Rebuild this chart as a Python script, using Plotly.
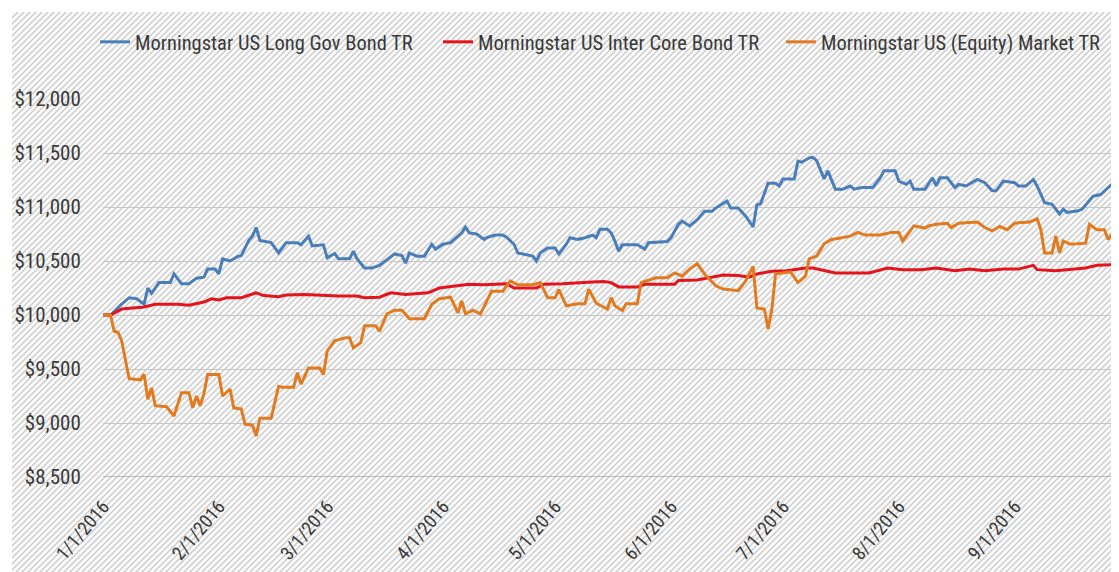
import base64
import plotly.graph_objects as go

# ---------------- data ----------------
long_gov_dates = [
    "2016-01-01", "2016-01-03", "2016-01-06", "2016-01-08", "2016-01-10", "2016-01-12", "2016-01-13",
    "2016-01-14", "2016-01-16", "2016-01-19", "2016-01-20", "2016-01-22", "2016-01-24", "2016-01-26",
    "2016-01-28", "2016-01-29", "2016-01-31", "2016-02-01", "2016-02-02", "2016-02-04", "2016-02-06",
    "2016-02-07", "2016-02-09", "2016-02-10", "2016-02-11", "2016-02-12", "2016-02-15", "2016-02-17",
    "2016-02-19", "2016-02-22", "2016-02-23", "2016-02-24", "2016-02-25", "2016-02-26", "2016-02-29",
    "2016-03-01", "2016-03-03", "2016-03-04", "2016-03-07", "2016-03-08", "2016-03-09", "2016-03-11",
    "2016-03-13", "2016-03-15", "2016-03-17", "2016-03-19", "2016-03-21", "2016-03-22", "2016-03-23",
    "2016-03-25", "2016-03-27", "2016-03-29", "2016-03-30", "2016-04-01", "2016-04-03", "2016-04-06",
    "2016-04-07", "2016-04-08", "2016-04-10", "2016-04-12", "2016-04-13", "2016-04-15", "2016-04-17",
    "2016-04-18", "2016-04-20", "2016-04-21", "2016-04-23", "2016-04-25", "2016-04-26", "2016-04-27",
    "2016-04-29", "2016-05-01", "2016-05-02", "2016-05-04", "2016-05-05", "2016-05-07", "2016-05-09",
    "2016-05-11", "2016-05-12", "2016-05-13", "2016-05-15", "2016-05-16", "2016-05-17", "2016-05-18",
    "2016-05-19", "2016-05-23", "2016-05-25", "2016-05-26", "2016-05-31", "2016-06-01", "2016-06-03",
    "2016-06-04", "2016-06-06", "2016-06-08", "2016-06-10", "2016-06-12", "2016-06-13", "2016-06-16",
    "2016-06-17", "2016-06-19", "2016-06-21", "2016-06-22", "2016-06-23", "2016-06-24", "2016-06-25",
    "2016-06-27", "2016-06-29", "2016-06-30", "2016-07-01", "2016-07-04", "2016-07-05", "2016-07-06",
    "2016-07-08", "2016-07-09", "2016-07-10", "2016-07-12", "2016-07-13", "2016-07-15", "2016-07-17",
    "2016-07-19", "2016-07-20", "2016-07-22", "2016-07-25", "2016-07-27", "2016-07-28", "2016-07-31",
    "2016-08-01", "2016-08-03", "2016-08-04", "2016-08-05", "2016-08-08", "2016-08-09", "2016-08-10",
    "2016-08-11", "2016-08-12", "2016-08-14", "2016-08-16", "2016-08-17", "2016-08-19", "2016-08-22",
    "2016-08-24", "2016-08-26", "2016-08-27", "2016-08-29", "2016-09-01", "2016-09-02", "2016-09-04",
    "2016-09-06", "2016-09-07", "2016-09-09", "2016-09-11", "2016-09-13", "2016-09-14", "2016-09-15",
    "2016-09-18", "2016-09-19", "2016-09-22", "2016-09-24", "2016-09-27", "2016-09-29",
]
long_gov_values = [
    10000, 10000, 10100, 10160, 10150, 10100, 10250,
    10200, 10300, 10300, 10380, 10290, 10290, 10340,
    10350, 10425, 10425, 10380, 10520, 10500, 10540,
    10550, 10690, 10730, 10810, 10690, 10670, 10575,
    10670, 10670, 10650, 10690, 10730, 10640, 10650,
    10530, 10570, 10520, 10520, 10590, 10520, 10435,
    10435, 10460, 10510, 10565, 10550, 10480, 10575,
    10545, 10545, 10655, 10610, 10655, 10670, 10760,
    10815, 10760, 10750, 10700, 10720, 10740, 10740,
    10720, 10655, 10575, 10560, 10545, 10500, 10575,
    10620, 10620, 10565, 10655, 10715, 10700, 10715,
    10740, 10715, 10795, 10795, 10760, 10685, 10590,
    10650, 10650, 10610, 10670, 10680, 10715, 10840,
    10870, 10825, 10880, 10960, 10960, 10990, 11055,
    10990, 10990, 10915, 10870, 10815, 11020, 11030,
    11220, 11220, 11195, 11260, 11260, 11425, 11415,
    11455, 11460, 11430, 11260, 11335, 11165, 11165,
    11195, 11165, 11180, 11180, 11270, 11335, 11335,
    11240, 11210, 11240, 11165, 11165, 11220, 11270,
    11195, 11270, 11270, 11180, 11210, 11195, 11255,
    11225, 11150, 11150, 11240, 11225, 11195, 11195,
    11255, 11195, 11040, 11025, 10935, 10980, 10950,
    10965, 10980, 11100, 11115, 11210, 11225,
]

inter_core_dates = [
    "2016-01-01", "2016-01-03", "2016-01-06", "2016-01-09", "2016-01-12", "2016-01-15", "2016-01-21",
    "2016-01-24", "2016-01-28", "2016-01-30", "2016-02-01", "2016-02-03", "2016-02-07", "2016-02-11",
    "2016-02-13", "2016-02-17", "2016-02-19", "2016-02-24", "2016-02-29", "2016-03-04", "2016-03-09",
    "2016-03-11", "2016-03-15", "2016-03-18", "2016-03-22", "2016-03-28", "2016-03-31", "2016-04-05",
    "2016-04-08", "2016-04-12", "2016-04-18", "2016-04-20", "2016-04-26", "2016-04-28", "2016-05-03",
    "2016-05-11", "2016-05-14", "2016-05-16", "2016-05-18", "2016-05-23", "2016-05-25", "2016-06-02",
    "2016-06-03", "2016-06-08", "2016-06-12", "2016-06-15", "2016-06-19", "2016-06-22", "2016-06-24",
    "2016-06-28", "2016-07-02", "2016-07-07", "2016-07-09", "2016-07-12", "2016-07-15", "2016-07-24",
    "2016-07-29", "2016-08-02", "2016-08-07", "2016-08-11", "2016-08-16", "2016-08-20", "2016-08-24",
    "2016-08-29", "2016-09-02", "2016-09-06", "2016-09-07", "2016-09-12", "2016-09-15", "2016-09-20",
    "2016-09-23", "2016-09-29",
]
inter_core_values = [
    10000, 10000, 10055, 10065, 10075, 10100, 10100,
    10090, 10120, 10150, 10140, 10160, 10160, 10205,
    10180, 10170, 10185, 10190, 10180, 10175, 10175,
    10160, 10165, 10205, 10190, 10205, 10250, 10270,
    10285, 10280, 10290, 10250, 10250, 10285, 10290,
    10305, 10310, 10300, 10260, 10260, 10285, 10285,
    10320, 10325, 10350, 10370, 10365, 10350, 10380,
    10405, 10410, 10435, 10435, 10410, 10390, 10390,
    10435, 10420, 10420, 10435, 10410, 10425, 10410,
    10425, 10425, 10460, 10420, 10410, 10420, 10435,
    10460, 10470,
]

equity_dates = [
    "2016-01-01", "2016-01-03", "2016-01-04", "2016-01-05", "2016-01-06", "2016-01-07", "2016-01-08",
    "2016-01-11", "2016-01-12", "2016-01-13", "2016-01-14", "2016-01-15", "2016-01-18", "2016-01-20",
    "2016-01-22", "2016-01-24", "2016-01-25", "2016-01-26", "2016-01-27", "2016-01-28", "2016-01-29",
    "2016-02-01", "2016-02-02", "2016-02-04", "2016-02-05", "2016-02-07", "2016-02-08", "2016-02-10",
    "2016-02-11", "2016-02-12", "2016-02-15", "2016-02-17", "2016-02-18", "2016-02-21", "2016-02-22",
    "2016-02-23", "2016-02-25", "2016-02-28", "2016-02-29", "2016-03-01", "2016-03-03", "2016-03-06",
    "2016-03-07", "2016-03-08", "2016-03-10", "2016-03-11", "2016-03-14", "2016-03-15", "2016-03-17",
    "2016-03-19", "2016-03-21", "2016-03-23", "2016-03-27", "2016-03-29", "2016-03-31", "2016-04-03",
    "2016-04-05", "2016-04-06", "2016-04-07", "2016-04-09", "2016-04-11", "2016-04-14", "2016-04-17",
    "2016-04-19", "2016-04-21", "2016-04-25", "2016-04-27", "2016-04-29", "2016-05-01", "2016-05-02",
    "2016-05-04", "2016-05-07", "2016-05-09", "2016-05-10", "2016-05-12", "2016-05-13", "2016-05-15",
    "2016-05-16", "2016-05-17", "2016-05-19", "2016-05-20", "2016-05-23", "2016-05-24", "2016-05-28",
    "2016-05-31", "2016-06-02", "2016-06-04", "2016-06-06", "2016-06-08", "2016-06-10", "2016-06-13",
    "2016-06-15", "2016-06-19", "2016-06-21", "2016-06-23", "2016-06-24", "2016-06-26", "2016-06-27",
    "2016-06-28", "2016-06-29", "2016-07-01", "2016-07-03", "2016-07-05", "2016-07-07", "2016-07-08",
    "2016-07-10", "2016-07-12", "2016-07-14", "2016-07-16", "2016-07-19", "2016-07-21", "2016-07-23",
    "2016-07-27", "2016-07-30", "2016-08-01", "2016-08-02", "2016-08-03", "2016-08-05", "2016-08-08",
    "2016-08-09", "2016-08-11", "2016-08-14", "2016-08-15", "2016-08-17", "2016-08-22", "2016-08-24",
    "2016-08-26", "2016-08-28", "2016-08-30", "2016-09-01", "2016-09-05", "2016-09-07", "2016-09-08",
    "2016-09-09", "2016-09-11", "2016-09-12", "2016-09-13", "2016-09-14", "2016-09-16", "2016-09-20",
    "2016-09-21", "2016-09-23", "2016-09-25", "2016-09-26", "2016-09-29",
]
equity_values = [
    10000, 10000, 9850, 9840, 9760, 9575, 9410,
    9400, 9450, 9220, 9325, 9160, 9150, 9065,
    9280, 9280, 9140, 9250, 9160, 9270, 9450,
    9450, 9250, 9315, 9140, 9130, 8990, 8980,
    8880, 9045, 9045, 9340, 9330, 9330, 9465,
    9360, 9510, 9510, 9450, 9665, 9760, 9790,
    9790, 9695, 9745, 9900, 9900, 9850, 10010,
    10045, 10045, 9965, 9965, 10100, 10150, 10165,
    10020, 10130, 10010, 10045, 10010, 10220, 10220,
    10315, 10280, 10280, 10300, 10160, 10160, 10235,
    10085, 10105, 10105, 10240, 10110, 10090, 10055,
    10160, 10085, 10040, 10105, 10105, 10300, 10345,
    10345, 10390, 10360, 10425, 10475, 10380, 10270,
    10240, 10225, 10315, 10450, 10065, 10055, 9870,
    10050, 10380, 10390, 10400, 10300, 10360, 10520,
    10545, 10660, 10700, 10710, 10730, 10765, 10740,
    10740, 10765, 10765, 10685, 10730, 10825, 10805,
    10825, 10840, 10850, 10810, 10850, 10860, 10810,
    10780, 10820, 10790, 10850, 10860, 10890, 10790,
    10575, 10575, 10730, 10575, 10685, 10655, 10665,
    10840, 10790, 10790, 10700, 10830,
]

series_names = [
    "Morningstar US Long Gov Bond TR",
    "Morningstar US Inter Core Bond TR",
    "Morningstar US (Equity) Market TR",
]
y_tick_values = [8500, 9000, 9500, 10000, 10500, 11000, 11500, 12000]
y_tick_labels = ["$8,500", "$9,000", "$9,500", "$10,000", "$10,500", "$11,000", "$11,500", "$12,000"]

# ---------------- figure ----------------
# the page body adds an 8px offset, so the figure is 8px smaller than the window
W, H = 1111, 564
ML, MR, MT, MB = 95, 0, 91, 95
PW, PH = W - ML - MR, H - MT - MB

FONT = "Liberation Sans Narrow, Roboto Condensed, Roboto, sans-serif"
TEXT = "#3a3a3a"

colors = ["#4a7ebb", "#e3141b", "#e27a1f"]

fig = go.Figure()
for name, xs, ys, c in zip(series_names,
                           [long_gov_dates, inter_core_dates, equity_dates],
                           [long_gov_values, inter_core_values, equity_values],
                           colors):
    fig.add_trace(go.Scatter(x=xs, y=ys, mode="lines", name=name,
                             line=dict(color=c, width=3), hoverinfo="skip"))

# hatched background as an inline SVG image
HX, HY = 4, 4
hatch_w, hatch_h = W - HX, H - HY
svg = (
    f'<svg xmlns="http://www.w3.org/2000/svg" width="{hatch_w}" height="{hatch_h}">'
    '<defs><pattern id="h" patternUnits="userSpaceOnUse" width="6" height="6">'
    '<rect width="6" height="6" fill="#ffffff"/>'
    '<path d="M-1,1 l2,-2 M0,6 l6,-6 M5,7 l2,-2" stroke="#d0d0d0" stroke-width="1.6"/>'
    '</pattern></defs>'
    '<rect width="100%" height="100%" fill="url(#h)"/></svg>'
)
src = "data:image/svg+xml;base64," + base64.b64encode(svg.encode()).decode()
fig.add_layout_image(dict(
    source=src, xref="paper", yref="paper",
    x=(HX - ML) / PW, y=1 + (MT - HY) / PH,
    sizex=hatch_w / PW, sizey=hatch_h / PH,
    xanchor="left", yanchor="top", sizing="stretch", layer="below",
))

fig.update_layout(
    width=W, height=H,
    margin=dict(l=ML, r=MR, t=MT, b=MB, autoexpand=False),
    paper_bgcolor="white",
    plot_bgcolor="rgba(0,0,0,0)",
    font=dict(family=FONT, size=20, color=TEXT),
    showlegend=True,
    legend=dict(orientation="h", x=(87 - ML) / PW, y=1 + (MT - 34) / PH,
                xanchor="left", yanchor="middle", bgcolor="rgba(0,0,0,0)",
                font=dict(family=FONT, size=20.5, color=TEXT),
                itemwidth=30, entrywidth=298, tracegroupgap=0),
    xaxis=dict(
        type="date",
        range=["2016-01-01", "2016-09-28 22:00"],
        tick0="2016-01-01", dtick="M1", tickformat="%-m/%-d/%Y",
        tickangle=-50, showgrid=False, zeroline=False,
        showline=False, ticks="outside", ticklen=10, tickcolor="rgba(0,0,0,0)",
        tickfont=dict(family=FONT, size=19, color=TEXT),
    ),
    yaxis=dict(
        range=[8500, 12000], tickvals=y_tick_values, ticktext=y_tick_labels,
        showgrid=True, gridcolor="#c6c6c6", gridwidth=1, zeroline=False,
        showline=False, ticks="outside", ticklen=17, tickcolor="rgba(0,0,0,0)",
        tickfont=dict(family=FONT, size=21, color=TEXT),
    ),
)
fig.add_hline(y=8500, line=dict(color="#a8a8a8", width=1.3), layer="below")

fig.write_html("out.html")
